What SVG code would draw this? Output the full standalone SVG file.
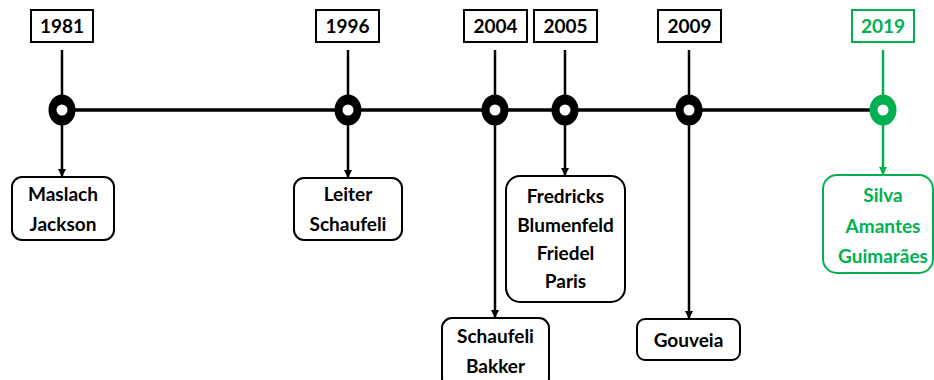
<svg xmlns="http://www.w3.org/2000/svg" width="934" height="380" viewBox="0 0 934 380">
  <style>
    .yr { fill: #fff; stroke: #000; stroke-width: 2; }
    .yr.g { stroke: #00B050; }
    .card { fill: #fff; stroke: #000; stroke-width: 2; }
    .card.g { stroke: #00B050; }
    text { font-family: Lato, "Liberation Sans", sans-serif; font-weight: bold; font-size: 19px; text-anchor: middle; fill: #000; }
    text.g { fill: #00B050; }
    .ln { stroke: #000; stroke-width: 2.5; fill: none; }
    .ln.g { stroke: #00B050; }
    .axis { stroke: #000; stroke-width: 3.5; }
    .dot { fill: #000; }
    .dot.g { fill: #00B050; }
    .hole { fill: #fff; }
  </style>
  <defs>
    <marker id="ah" markerWidth="8" markerHeight="8" refX="7" refY="4" orient="auto" markerUnits="userSpaceOnUse">
      <path d="M0,0 L8,4 L0,8 Z" fill="#000"/>
    </marker>
    <marker id="ahg" markerWidth="8" markerHeight="8" refX="7" refY="4" orient="auto" markerUnits="userSpaceOnUse">
      <path d="M0,0 L8,4 L0,8 Z" fill="#00B050"/>
    </marker>
  </defs>

  <!-- connectors: axis, year stems and drop arrows -->
  <g id="connectors">
    <line class="axis" x1="62" y1="110" x2="883" y2="110"/>
    <line class="ln" x1="62" y1="50" x2="62" y2="110"/>
    <line class="ln" x1="348" y1="50" x2="348" y2="110"/>
    <line class="ln" x1="495" y1="50" x2="495" y2="110"/>
    <line class="ln" x1="565" y1="50" x2="565" y2="110"/>
    <line class="ln" x1="689" y1="50" x2="689" y2="110"/>
    <line class="ln g" x1="883" y1="50" x2="883" y2="110"/>
    <line class="ln" x1="62" y1="110" x2="62" y2="176" marker-end="url(#ah)"/>
    <line class="ln" x1="348" y1="110" x2="348" y2="177" marker-end="url(#ah)"/>
    <line class="ln" x1="495" y1="110" x2="495" y2="317" marker-end="url(#ah)"/>
    <line class="ln" x1="565" y1="110" x2="565" y2="175" marker-end="url(#ah)"/>
    <line class="ln" x1="689" y1="110" x2="689" y2="318" marker-end="url(#ah)"/>
    <line class="ln g" x1="883" y1="110" x2="883" y2="174" marker-end="url(#ahg)"/>
  </g>

  <!-- timeline markers -->
  <g id="dots">
    <g id="dot-1981"><ellipse class="dot" cx="62" cy="110" rx="13.5" ry="15.5"/><circle class="hole" cx="62" cy="110" r="5.5"/></g>
    <g id="dot-1996"><ellipse class="dot" cx="348" cy="110" rx="13.5" ry="15.5"/><circle class="hole" cx="348" cy="110" r="5.5"/></g>
    <g id="dot-2004"><ellipse class="dot" cx="495" cy="110" rx="13.5" ry="15.5"/><circle class="hole" cx="495" cy="110" r="5.5"/></g>
    <g id="dot-2005"><ellipse class="dot" cx="565" cy="110" rx="13.5" ry="15.5"/><circle class="hole" cx="565" cy="110" r="5.5"/></g>
    <g id="dot-2009"><ellipse class="dot" cx="689" cy="110" rx="13.5" ry="15.5"/><circle class="hole" cx="689" cy="110" r="5.5"/></g>
    <g id="dot-2019"><ellipse class="dot g" cx="883" cy="110" rx="13.5" ry="15.5"/><circle class="hole" cx="883" cy="110" r="5.5"/></g>
  </g>

  <!-- year labels -->
  <g id="year-1981"><rect class="yr" x="31" y="10" width="62" height="32"/><text x="62" y="33">1981</text></g>
  <g id="year-1996"><rect class="yr" x="316" y="10" width="63" height="32"/><text x="347.5" y="33">1996</text></g>
  <g id="year-2004"><rect class="yr" x="464" y="10" width="63" height="32"/><text x="495.5" y="33">2004</text></g>
  <g id="year-2005"><rect class="yr" x="534" y="10" width="63" height="32"/><text x="565.5" y="33">2005</text></g>
  <g id="year-2009"><rect class="yr" x="658" y="10" width="63" height="32"/><text x="689.5" y="33">2009</text></g>
  <g id="year-2019"><rect class="yr g" x="852" y="10" width="62" height="32"/><text class="g" x="883" y="33">2019</text></g>

  <!-- author cards -->
  <g id="card-1981">
    <rect class="card" x="12" y="177" width="102" height="63" rx="10"/>
    <text x="63" y="201">Maslach</text>
    <text x="63" y="231">Jackson</text>
  </g>
  <g id="card-1996">
    <rect class="card" x="294" y="178" width="108" height="62" rx="10"/>
    <text x="348" y="201">Leiter</text>
    <text x="348" y="231">Schaufeli</text>
  </g>
  <g id="card-2004">
    <rect class="card" x="442" y="318" width="107" height="70" rx="10"/>
    <text x="495.5" y="343">Schaufeli</text>
    <text x="495.5" y="373">Bakker</text>
  </g>
  <g id="card-2005">
    <rect class="card" x="506" y="176" width="119" height="126" rx="14"/>
    <text x="565.5" y="203">Fredricks</text>
    <text x="565.5" y="232">Blumenfeld</text>
    <text x="565.5" y="260">Friedel</text>
    <text x="565.5" y="288">Paris</text>
  </g>
  <g id="card-2009">
    <rect class="card" x="637" y="319" width="103" height="41" rx="8"/>
    <text x="688.5" y="347">Gouveia</text>
  </g>
  <g id="card-2019">
    <rect class="card g" x="823" y="175" width="110" height="98" rx="14"/>
    <text class="g" x="883" y="202">Silva</text>
    <text class="g" x="883" y="233">Amantes</text>
    <text class="g" x="883" y="263">Guimarães</text>
  </g>
</svg>
